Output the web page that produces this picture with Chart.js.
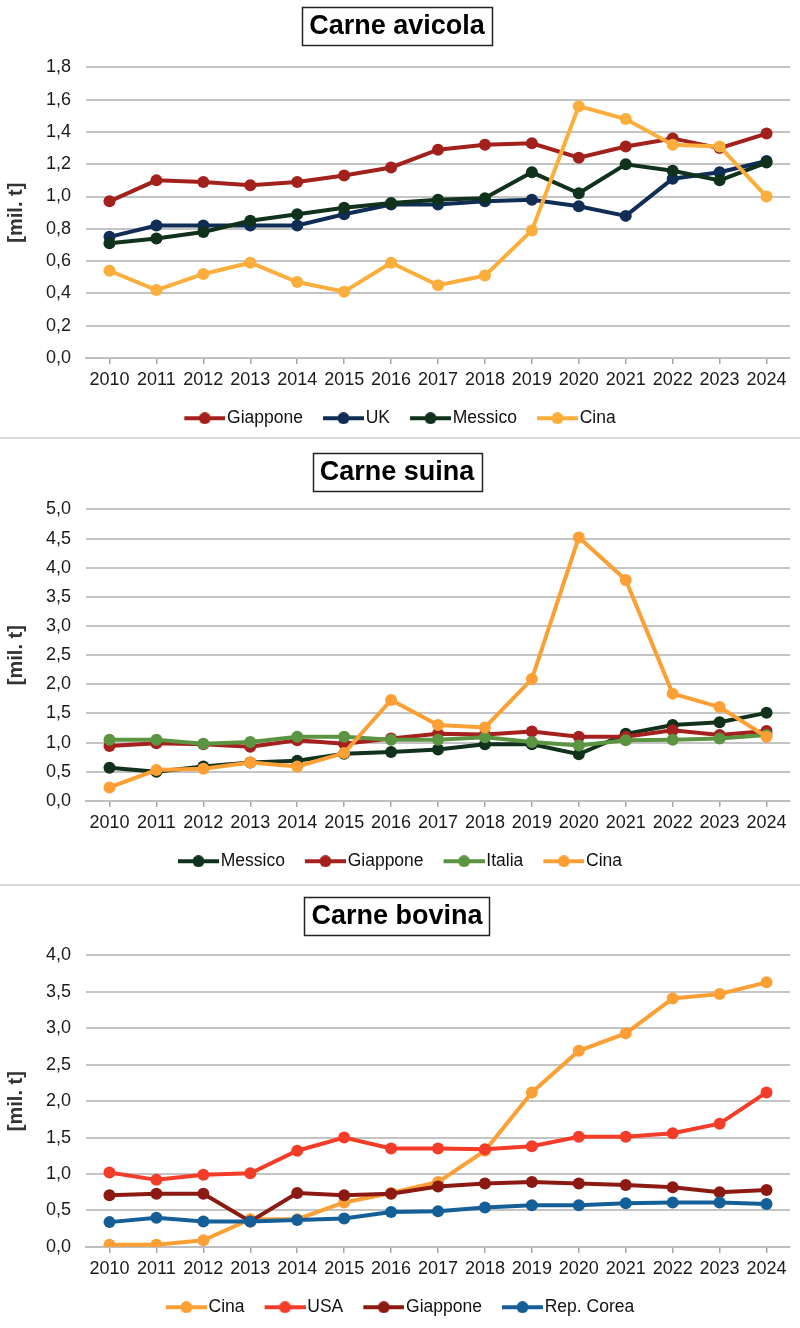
<!DOCTYPE html>
<html>
<head>
<meta charset="utf-8">
<script src="https://cdn.jsdelivr.net/npm/chart.js@4.4.1/dist/chart.umd.min.js"></script>
<style>
  html, body { margin: 0; padding: 0; background: #fff; }
  .panel { position: relative; width: 800px; border-bottom: 2px solid #d9d9d9; }
  .panel.last { border-bottom: none; }
</style>
</head>
<body>
<div class="panel" style="height:437px"><canvas id="avicola"></canvas></div>
<div class="panel" style="height:445px"><canvas id="suina"></canvas></div>
<div class="panel last" style="height:442px"><canvas id="bovina"></canvas></div>
<script>
// years on the x axis (shared by all three charts)
const years = ['2010', '2011', '2012', '2013', '2014', '2015', '2016', '2017',
               '2018', '2019', '2020', '2021', '2022', '2023', '2024'];

// Carne avicola [mil. t]
const avicolaGiappone = [0.97, 1.10, 1.09, 1.07, 1.09, 1.13, 1.18, 1.29, 1.32, 1.33, 1.24, 1.31, 1.36, 1.30, 1.39];
const avicolaUK       = [0.75, 0.82, 0.82, 0.82, 0.82, 0.89, 0.95, 0.95, 0.97, 0.98, 0.94, 0.88, 1.11, 1.15, 1.22];
const avicolaMessico  = [0.71, 0.74, 0.78, 0.85, 0.89, 0.93, 0.96, 0.98, 0.99, 1.15, 1.02, 1.20, 1.16, 1.10, 1.21];
const avicolaCina     = [0.54, 0.42, 0.52, 0.59, 0.47, 0.41, 0.59, 0.45, 0.51, 0.79, 1.56, 1.48, 1.32, 1.31, 1.00];

// Carne suina [mil. t]
const suinaMessico  = [0.57, 0.50, 0.59, 0.66, 0.69, 0.81, 0.84, 0.88, 0.97, 0.97, 0.80, 1.15, 1.30, 1.35, 1.51];
const suinaGiappone = [0.94, 0.99, 0.97, 0.93, 1.04, 0.98, 1.07, 1.15, 1.14, 1.19, 1.10, 1.10, 1.21, 1.13, 1.20];
const suinaItalia   = [1.05, 1.05, 0.98, 1.01, 1.10, 1.10, 1.05, 1.05, 1.09, 1.01, 0.95, 1.04, 1.05, 1.07, 1.13];
const suinaCina     = [0.23, 0.53, 0.55, 0.66, 0.59, 0.82, 1.73, 1.30, 1.26, 2.09, 4.52, 3.79, 1.84, 1.61, 1.10];

// Carne bovina [mil. t]
const bovinaCina     = [0.03, 0.03, 0.09, 0.38, 0.38, 0.61, 0.74, 0.89, 1.32, 2.12, 2.69, 2.93, 3.41, 3.47, 3.63];
const bovinaUSA      = [1.02, 0.92, 0.99, 1.01, 1.32, 1.50, 1.35, 1.35, 1.34, 1.38, 1.51, 1.51, 1.56, 1.69, 2.12];
const bovinaGiappone = [0.71, 0.73, 0.73, 0.35, 0.74, 0.71, 0.73, 0.83, 0.87, 0.89, 0.87, 0.85, 0.82, 0.75, 0.78];
const bovinaCorea    = [0.34, 0.40, 0.35, 0.35, 0.37, 0.39, 0.48, 0.49, 0.54, 0.57, 0.57, 0.60, 0.61, 0.61, 0.59];

const FONT = '"Liberation Sans", Arial, sans-serif';
Chart.defaults.font.family = FONT;
Chart.defaults.color = '#1a1a1a';

// line + dot sample used in the legends; left part of the image stays empty
// so the sample sits right next to its text
function swatch(color) {
  const c = document.createElement('canvas');
  c.width = 54; c.height = 12;
  const g = c.getContext('2d');
  g.strokeStyle = color; g.lineWidth = 4;
  g.beginPath(); g.moveTo(13, 6); g.lineTo(54, 6); g.stroke();
  g.fillStyle = color;
  g.beginPath(); g.arc(33.5, 6, 6, 0, Math.PI * 2); g.fill();
  return c;
}

// framed title
const titleBox = {
  id: 'titleBox',
  afterDraw(chart) {
    const tb = chart.titleBlock;
    const o = chart.options.plugins.title;
    if (!tb || !o.display) return;
    const ctx = chart.ctx;
    ctx.save();
    ctx.font = 'bold 27px ' + FONT;
    const w = ctx.measureText(o.text).width;
    const cx = (tb.left + tb.right) / 2;
    const cy = tb.top + o.padding.top + 27 * 1.2 / 2;
    ctx.lineWidth = 1.5;
    ctx.strokeStyle = '#222';
    ctx.strokeRect(Math.round(cx - w / 2 - 7) + 0.5, Math.round(cy - 19) + 0.5, Math.round(w + 14), 38);
    ctx.restore();
  }
};

function makeChart(id, title, series, yMax, yStep, padTop, padBottom, bottom) {
  const n = series.length;
  return new Chart(document.getElementById(id), {
    type: 'line',
    data: {
      labels: years,
      datasets: series.map((s, i) => ({
        label: s.label,
        data: s.data,
        borderColor: s.color,
        backgroundColor: s.color,
        pointBackgroundColor: s.color,
        pointBorderColor: s.color,
        borderWidth: 4,
        pointRadius: 6,
        pointBorderWidth: 0,
        tension: 0,
        order: n - 1 - i   // later series on top
      }))
    },
    options: {
      responsive: true,
      maintainAspectRatio: false,
      animation: false,
      layout: { padding: { left: 4, right: 10, top: 0, bottom: bottom } },
      plugins: {
        tooltip: { enabled: false },
        title: {
          display: true,
          text: title,
          color: '#000',
          font: { size: 27, weight: 'bold' },
          padding: { top: padTop, bottom: padBottom }
        },
        legend: {
          position: 'bottom',
          labels: {
            usePointStyle: true,
            pointStyleWidth: 40,
            boxHeight: 12,
            padding: 14,
            color: '#111',
            font: { size: 17.5 },
            sort: (a, b) => a.datasetIndex - b.datasetIndex,
            generateLabels(chart) {
              const items = Chart.defaults.plugins.legend.labels.generateLabels(chart);
              items.forEach(it => {
                it.pointStyle = swatch(chart.data.datasets[it.datasetIndex].borderColor);
              });
              return items;
            }
          }
        }
      },
      scales: {
        x: {
          offset: true,
          grid: { offset: false, drawOnChartArea: false, color: '#a6a6a6', lineWidth: 1.5, tickLength: 6 },
          border: { display: true, color: '#bfbfbf', width: 2 },
          ticks: { font: { size: 18 }, color: '#1a1a1a', padding: 5, maxRotation: 0, autoSkip: false }
        },
        y: {
          min: 0,
          max: yMax,
          grid: { color: '#c4c4c4', lineWidth: 2, drawTicks: false },
          border: { display: false },
          ticks: {
            stepSize: yStep,
            padding: 15,
            font: { size: 18 },
            color: '#1a1a1a',
            callback: v => v.toFixed(1).replace('.', ',')
          },
          title: {
            display: true,
            text: '[mil. t]',
            color: '#333',
            font: { size: 20, weight: 'bold' },
            padding: { top: 0, bottom: 3 }
          }
        }
      }
    },
    plugins: [titleBox]
  });
}

makeChart('avicola', 'Carne avicola', [
  { label: 'Giappone', data: avicolaGiappone, color: '#a3211c' },
  { label: 'UK', data: avicolaUK, color: '#0f2d55' },
  { label: 'Messico', data: avicolaMessico, color: '#10311b' },
  { label: 'Cina', data: avicolaCina, color: '#fbae3c' }
], 1.8, 0.2, 10, 25, 0);

makeChart('suina', 'Carne suina', [
  { label: 'Messico', data: suinaMessico, color: '#10311b' },
  { label: 'Giappone', data: suinaGiappone, color: '#a5201e' },
  { label: 'Italia', data: suinaItalia, color: '#5b9542' },
  { label: 'Cina', data: suinaCina, color: '#fca035' }
], 5, 0.5, 17, 21, 4);

makeChart('bovina', 'Carne bovina', [
  { label: 'Cina', data: bovinaCina, color: '#fca035' },
  { label: 'USA', data: bovinaUSA, color: '#f43d28' },
  { label: 'Giappone', data: bovinaGiappone, color: '#8c1a12' },
  { label: 'Rep. Corea', data: bovinaCorea, color: '#155f98' }
], 4, 0.5, 14, 23, 2);
</script>
</body>
</html>
